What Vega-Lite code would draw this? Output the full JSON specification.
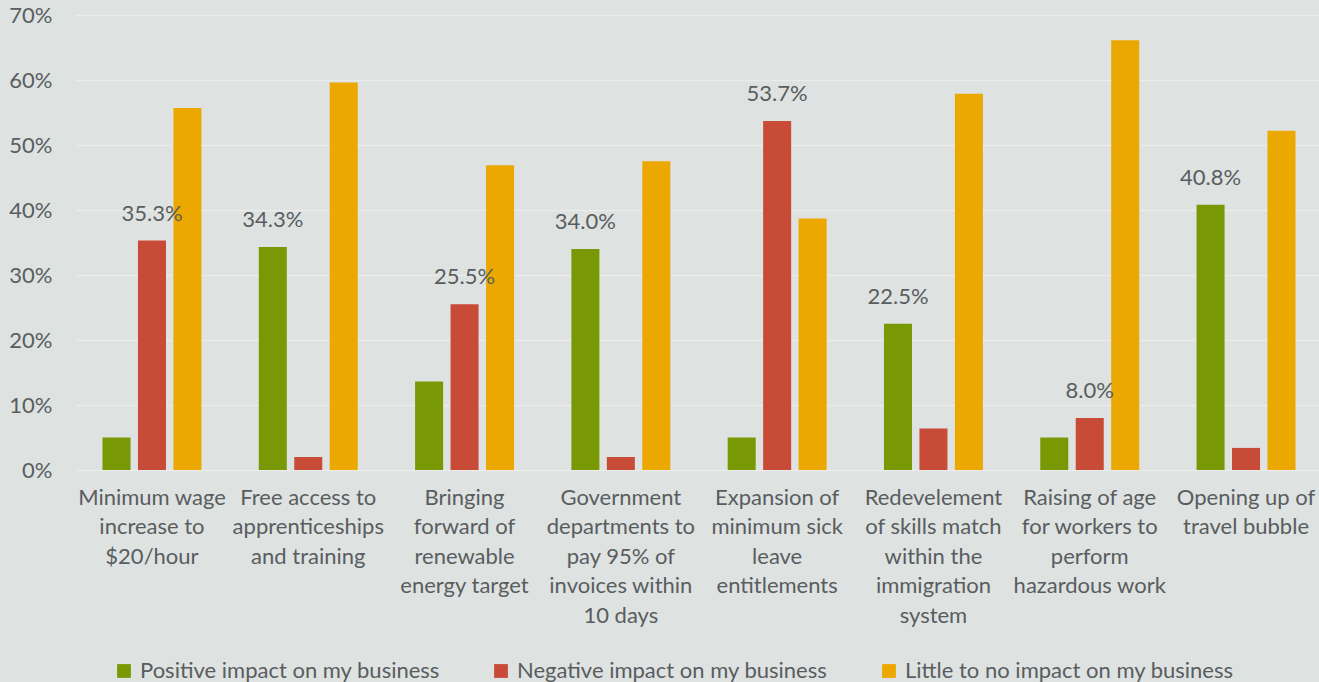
{
  "$schema": "https://vega.github.io/schema/vega-lite/v6.json",
  "width": 1248,
  "height": 455,
  "autosize": {"type": "none"},
  "padding": {"left": 75, "top": 15, "right": 0, "bottom": 212},
  "background": "#dee2e1",
  "config": {
    "view": {"stroke": null},
    "font": "Lato",
    "axis": {"labelFont": "Lato", "labelColor": "#595d60", "labelFontSize": 22, "domain": false, "ticks": false},
    "legend": {"labelFont": "Lato"}
  },
  "data": {
    "values": [
      {"category": "Minimum wage increase to $20/hour", "series": "Positive impact on my business", "value": 0.050},
      {"category": "Minimum wage increase to $20/hour", "series": "Negative impact on my business", "value": 0.353},
      {"category": "Minimum wage increase to $20/hour", "series": "Little to no impact on my business", "value": 0.557},
      {"category": "Free access to apprenticeships and training", "series": "Positive impact on my business", "value": 0.343},
      {"category": "Free access to apprenticeships and training", "series": "Negative impact on my business", "value": 0.020},
      {"category": "Free access to apprenticeships and training", "series": "Little to no impact on my business", "value": 0.596},
      {"category": "Bringing forward of renewable energy target", "series": "Positive impact on my business", "value": 0.136},
      {"category": "Bringing forward of renewable energy target", "series": "Negative impact on my business", "value": 0.255},
      {"category": "Bringing forward of renewable energy target", "series": "Little to no impact on my business", "value": 0.469},
      {"category": "Government departments to pay 95% of invoices within 10 days", "series": "Positive impact on my business", "value": 0.340},
      {"category": "Government departments to pay 95% of invoices within 10 days", "series": "Negative impact on my business", "value": 0.020},
      {"category": "Government departments to pay 95% of invoices within 10 days", "series": "Little to no impact on my business", "value": 0.475},
      {"category": "Expansion of minimum sick leave entitlements", "series": "Positive impact on my business", "value": 0.050},
      {"category": "Expansion of minimum sick leave entitlements", "series": "Negative impact on my business", "value": 0.537},
      {"category": "Expansion of minimum sick leave entitlements", "series": "Little to no impact on my business", "value": 0.387},
      {"category": "Redevelement of skills match within the immigration system", "series": "Positive impact on my business", "value": 0.225},
      {"category": "Redevelement of skills match within the immigration system", "series": "Negative impact on my business", "value": 0.064},
      {"category": "Redevelement of skills match within the immigration system", "series": "Little to no impact on my business", "value": 0.579},
      {"category": "Raising of age for workers to perform hazardous work", "series": "Positive impact on my business", "value": 0.050},
      {"category": "Raising of age for workers to perform hazardous work", "series": "Negative impact on my business", "value": 0.080},
      {"category": "Raising of age for workers to perform hazardous work", "series": "Little to no impact on my business", "value": 0.661},
      {"category": "Opening up of travel bubble", "series": "Positive impact on my business", "value": 0.408},
      {"category": "Opening up of travel bubble", "series": "Negative impact on my business", "value": 0.034},
      {"category": "Opening up of travel bubble", "series": "Little to no impact on my business", "value": 0.522}
    ]
  },
  "encoding": {
    "x": {
      "field": "category", "type": "nominal", "sort": null, "title": null,
      "scale": {"paddingInner": 0.367, "paddingOuter": 0.176},
      "axis": {
        "labelAngle": 0, "labelPadding": 17, "labelBaseline": "top", "labelLineHeight": 29.5, "labelLimit": 300,
        "labelExpr": "datum.label == 'Minimum wage increase to $20/hour' ? ['Minimum wage','increase to','$20/hour'] : datum.label == 'Free access to apprenticeships and training' ? ['Free access to','apprenticeships','and training'] : datum.label == 'Bringing forward of renewable energy target' ? ['Bringing','forward of','renewable','energy target'] : datum.label == 'Government departments to pay 95% of invoices within 10 days' ? ['Government','departments to','pay 95% of','invoices within','10 days'] : datum.label == 'Expansion of minimum sick leave entitlements' ? ['Expansion of','minimum sick','leave','entitlements'] : datum.label == 'Redevelement of skills match within the immigration system' ? ['Redevelement','of skills match','within the','immigration','system'] : datum.label == 'Raising of age for workers to perform hazardous work' ? ['Raising of age','for workers to','perform','hazardous work'] : ['Opening up of','travel bubble']"
      }
    },
    "xOffset": {
      "field": "series", "type": "nominal",
      "sort": ["Positive impact on my business", "Negative impact on my business", "Little to no impact on my business"],
      "scale": {"paddingInner": 0.21, "paddingOuter": 0}
    },
    "y": {
      "field": "value", "type": "quantitative", "title": null,
      "scale": {"domain": [0, 0.7], "nice": false},
      "axis": {"format": ".0%", "values": [0, 0.1, 0.2, 0.3, 0.4, 0.5, 0.6, 0.7], "labelOverlap": false, "labelPadding": 23, "grid": true, "gridColor": "#e9eceb", "gridWidth": 1.5}
    }
  },
  "layer": [
    {
      "mark": {"type": "bar"},
      "encoding": {
        "color": {
          "field": "series", "type": "nominal",
          "sort": ["Positive impact on my business", "Negative impact on my business", "Little to no impact on my business"],
          "scale": {"domain": ["Positive impact on my business", "Negative impact on my business", "Little to no impact on my business"], "range": ["#789904", "#c84b37", "#eba800"]},
          "legend": {
            "title": null, "orient": "none", "direction": "horizontal", "legendX": 38, "legendY": 645,
            "symbolType": "square", "symbolSize": 190, "symbolStrokeWidth": 0, "symbolOpacity": 1,
            "labelFontSize": 22, "labelColor": "#595d60", "labelOffset": 5, "columnPadding": 50, "padding": 0, "labelLimit": 400
          }
        }
      }
    },
    {
      "transform": [
        {"filter": "datum.series != 'Little to no impact on my business'"},
        {"joinaggregate": [{"op": "max", "field": "value", "as": "maxv"}], "groupby": ["category"]},
        {"filter": "datum.value == datum.maxv"}
      ],
      "mark": {"type": "text", "baseline": "middle", "dy": -27, "fontSize": 22, "color": "#595d60", "font": "Lato"},
      "encoding": {
        "text": {"field": "value", "type": "quantitative", "format": ".1%"}
      }
    }
  ]
}
